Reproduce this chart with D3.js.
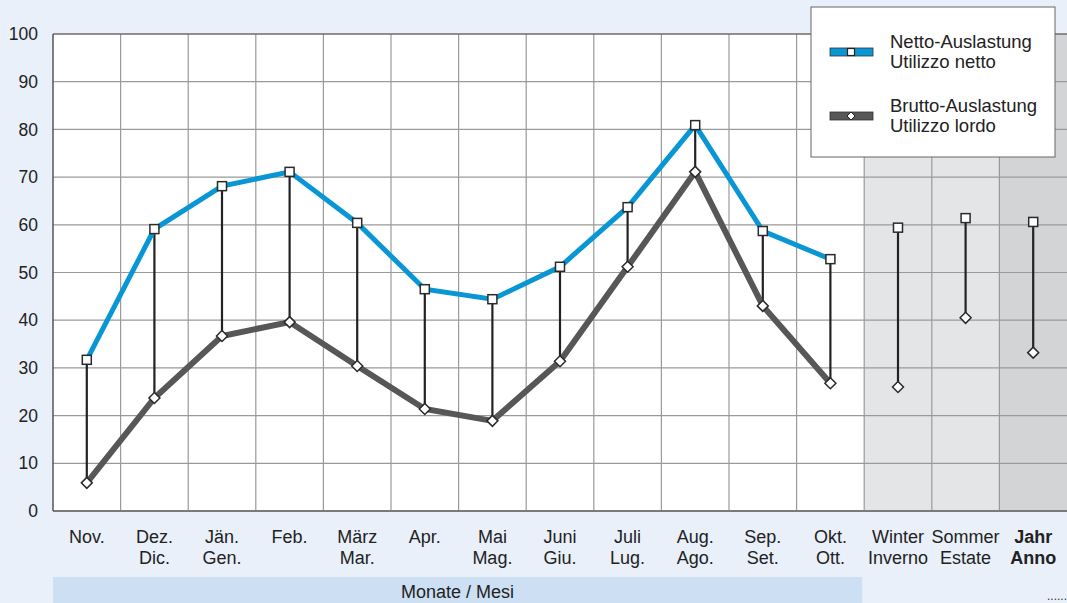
<!DOCTYPE html>
<html><head><meta charset="utf-8">
<script src="https://cdn.jsdelivr.net/npm/d3@7"></script>
<style>html,body{margin:0;padding:0;background:#e9f0fa;}svg{display:block;font-family:"Liberation Sans",Arial,sans-serif;}</style>
</head><body>
<svg id="c" width="1067" height="603"></svg>
<script>
const categories = ["Nov.","Dez.","Jän.","Feb.","März","Apr.","Mai","Juni","Juli","Aug.","Sep.","Okt.","Winter","Sommer","Jahr"];
const categories2 = ["","Dic.","Gen.","","Mar.","","Mag.","Giu.","Lug.","Ago.","Set.","Ott.","Inverno","Estate","Anno"];
const netto =  [31.7,59.1,68.1,71.1,60.4,46.5,44.4,51.2,63.7,80.9,58.7,52.8,59.4,61.4,60.6];
const brutto = [5.9,23.7,36.7,39.6,30.4,21.4,18.9,31.4,51.2,71.1,43.0,26.8,26.0,40.5,33.2];
const yTicks = [0,10,20,30,40,50,60,70,80,90,100];
const monthCount = 12;

const svg = d3.select("#c");
const L = 53, R = 1067, T = 34, B = 511;
const x = d3.scaleBand().domain(d3.range(categories.length)).range([L, R]).padding(0);
const y = d3.scaleLinear().domain([0,100]).range([B, T]);
const cx = i => x(i) + x.bandwidth()/2;

// plot background
svg.append("rect").attr("x", L).attr("y", T).attr("width", R-L).attr("height", B-T).attr("fill", "#fff");
// shaded summary columns
svg.selectAll("rect.shade").data(d3.range(monthCount, categories.length)).join("rect")
  .attr("x", i => x(i)).attr("y", T).attr("width", x.bandwidth()).attr("height", B-T)
  .attr("fill", i => i === categories.length-1 ? "#d3d4d6" : "#e4e5e7");

// grid
svg.selectAll("line.hg").data(yTicks.filter(t => t>0 && t<100)).join("line")
  .attr("x1", L).attr("x2", R).attr("y1", d => y(d)).attr("y2", d => y(d))
  .attr("stroke", "#9a9a9a").attr("stroke-width", 1.2);
svg.selectAll("line.vg").data(d3.range(1, categories.length)).join("line")
  .attr("x1", i => x(i)).attr("x2", i => x(i)).attr("y1", T).attr("y2", B)
  .attr("stroke", "#9a9a9a").attr("stroke-width", 1.2);
// frame
svg.append("line").attr("x1", L).attr("x2", R).attr("y1", T).attr("y2", T).attr("stroke", "#6d6d6d").attr("stroke-width", 1.5);
svg.append("line").attr("x1", L).attr("x2", R).attr("y1", B).attr("y2", B).attr("stroke", "#7a7a7a").attr("stroke-width", 2);
svg.append("line").attr("x1", L).attr("x2", L).attr("y1", T).attr("y2", B).attr("stroke", "#555").attr("stroke-width", 1.5);

// y axis labels
const yAxis = d3.axisLeft(y).tickValues(yTicks).tickSize(0).tickPadding(15);
const ga = svg.append("g").attr("transform", `translate(${L},0)`).call(yAxis);
ga.select(".domain").remove();
ga.selectAll("text").attr("font-size", 17.5).attr("fill", "#222").attr("font-family", "Liberation Sans, Arial, sans-serif");

// x labels
const xl = svg.append("g");
categories.forEach((c, i) => {
  const bold = i === categories.length-1;
  xl.append("text").attr("x", cx(i)).attr("y", 543).attr("text-anchor", "middle")
    .attr("font-size", 18).attr("fill", "#222").attr("font-weight", bold ? "bold" : "normal").text(c);
  if (categories2[i]) xl.append("text").attr("x", cx(i)).attr("y", 564).attr("text-anchor", "middle")
    .attr("font-size", 18).attr("fill", "#222").attr("font-weight", bold ? "bold" : "normal").text(categories2[i]);
});

// bottom band
svg.append("rect").attr("x", L).attr("y", 577).attr("width", x(monthCount)-L-2).attr("height", 30).attr("fill", "#cde0f3");
svg.append("text").attr("x", (L + x(monthCount)-2)/2).attr("y", 598).attr("text-anchor", "middle")
  .attr("font-size", 18).attr("fill", "#222").text("Monate / Mesi");
svg.append("text").attr("x", 1067).attr("y", 600).attr("text-anchor", "end")
  .attr("font-size", 12).attr("fill", "#333").text("......");

// connectors
const idx = d3.range(categories.length);
svg.selectAll("line.conn").data(idx).join("line")
  .attr("x1", cx).attr("x2", cx).attr("y1", i => y(netto[i])).attr("y2", i => y(brutto[i]))
  .attr("stroke", "#222").attr("stroke-width", 2.2);

// lines (months only)
const months = d3.range(monthCount);
const line = arr => d3.line().x(i => cx(i)).y(i => y(arr[i]));
svg.append("path").datum(months).attr("d", line(brutto)).attr("fill", "none")
  .attr("stroke", "#575757").attr("stroke-width", 6).attr("stroke-linejoin", "miter");
svg.append("path").datum(months).attr("d", line(netto)).attr("fill", "none")
  .attr("stroke", "#0896d5").attr("stroke-width", 5).attr("stroke-linejoin", "miter");

// markers
const sq = 9, dm = 5.5;
svg.selectAll("rect.mk").data(idx).join("rect")
  .attr("x", i => cx(i)-sq/2).attr("y", i => y(netto[i])-sq/2).attr("width", sq).attr("height", sq)
  .attr("fill", "#fff").attr("stroke", "#2a2a2a").attr("stroke-width", 1.5);
svg.selectAll("path.dm").data(idx).join("path")
  .attr("d", i => { const X = cx(i), Y = y(brutto[i]); return `M${X},${Y-dm}L${X+dm},${Y}L${X},${Y+dm}L${X-dm},${Y}Z`; })
  .attr("fill", "#fff").attr("stroke", "#2a2a2a").attr("stroke-width", 1.5);

// legend
const lg = svg.append("g");
lg.append("rect").attr("x", 811).attr("y", 7).attr("width", 244).attr("height", 150)
  .attr("fill", "#fff").attr("stroke", "#666").attr("stroke-width", 1);
const legendItems = [
  {c: "#0896d5", l1: "Netto-Auslastung", l2: "Utilizzo netto", y: 52, m: "sq"},
  {c: "#575757", l1: "Brutto-Auslastung", l2: "Utilizzo lordo", y: 116, m: "dm"}
];
legendItems.forEach(it => {
  lg.append("rect").attr("x", 830).attr("y", it.y-4).attr("width", 43).attr("height", 8)
    .attr("fill", it.c).attr("stroke", "#333").attr("stroke-width", 0.8);
  if (it.m === "sq") lg.append("rect").attr("x", 847.5).attr("y", it.y-3.5).attr("width", 7).attr("height", 7)
    .attr("fill", "#fff").attr("stroke", "#222").attr("stroke-width", 1.2);
  else lg.append("path").attr("d", `M851,${it.y-4}L855,${it.y}L851,${it.y+4}L847,${it.y}Z`)
    .attr("fill", "#fff").attr("stroke", "#222").attr("stroke-width", 1);
  lg.append("text").attr("x", 890).attr("y", it.y-4).attr("font-size", 18.5).attr("fill", "#222").text(it.l1);
  lg.append("text").attr("x", 890).attr("y", it.y+16).attr("font-size", 18.5).attr("fill", "#222").text(it.l2);
});
</script>
</body></html>
